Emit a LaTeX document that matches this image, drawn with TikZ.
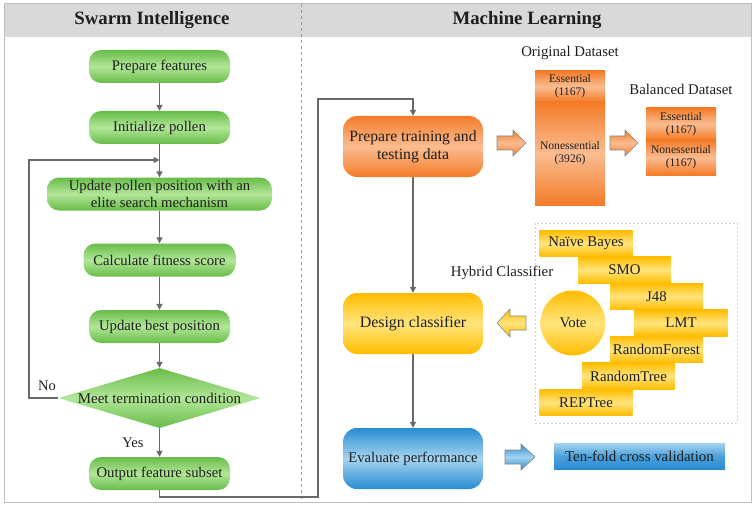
\documentclass[tikz,border=0pt]{standalone}
\usepackage{fontspec}
\setmainfont{Liberation Serif}
\usetikzlibrary{shapes.geometric,arrows.meta}
\definecolor{gE}{RGB}{104,188,72}
\definecolor{gM}{RGB}{178,230,152}
\definecolor{oE}{RGB}{244,124,40}
\definecolor{oM}{RGB}{250,188,145}
\definecolor{yE}{RGB}{255,188,0}
\definecolor{yM}{RGB}{255,228,125}
\definecolor{bE}{RGB}{40,140,210}
\definecolor{bM}{RGB}{165,212,240}
\definecolor{ln}{RGB}{105,105,105}
\definecolor{hdr}{RGB}{217,217,217}
\definecolor{frm}{RGB}{190,190,190}
\definecolor{txt}{RGB}{30,30,30}
\tikzset{
  conn/.style={draw=ln, line width=1.2pt, -{Triangle[length=6pt,width=6pt]}},
  greenbox/.style={rounded corners=12pt, top color=gE, bottom color=gE, middle color=gM, minimum height=33pt, inner sep=0pt, text=txt, font={\fontsize{14.7}{17}\selectfont}, align=center},
  bigbox/.style={rounded corners=14pt, minimum width=140pt, minimum height=61pt, inner sep=0pt, text=txt, align=center},
  orangefill/.style={top color=oE, bottom color=oE, middle color=oM},
  yellowfill/.style={top color=yE, bottom color=yE, middle color=yM},
  bluefill/.style={top color=bE, bottom color=bE, middle color=bM},
  databox/.style={orangefill, minimum width=70pt, inner sep=0pt, text=txt, align=center, font={\fontsize{11.6}{13}\selectfont}},
  clsbox/.style={yellowfill, minimum width=93pt, minimum height=26.5pt, inner sep=0pt, text=txt, font={\fontsize{14.8}{16}\selectfont}},
  lbl/.style={text=txt, font={\fontsize{14.8}{16}\selectfont}},
  hdrtxt/.style={text=txt, font={\fontsize{18.8}{21}\selectfont\bfseries}},
  blockarrow/.style={draw=ln!80, line width=0.6pt}
}
\begin{document}
\begin{tikzpicture}[x=1pt,y=-1pt]
\useasboundingbox[fill=white] (0,0) rectangle (755,508);
% frame and header
\fill[hdr] (4,4) rectangle (751,37);
\draw[frm, line width=1pt] (4,4) rectangle (751,502);
\draw[frm!80!black, dashed, line width=0.8pt] (301,4) -- (301,502);
\node[hdrtxt] (h1) at (152,20) {Swarm Intelligence};
\node[hdrtxt] (h2) at (527,20) {Machine Learning};

% left flow
\node[greenbox, minimum width=141pt] (pf) at (159.5,66.5) {Prepare features};
\node[greenbox, minimum width=141pt] (ip) at (159.5,127.5) {Initialize pollen};
\node[greenbox, minimum width=225pt] (up) at (159.5,194) {Update pollen position with an\\elite search mechanism};
\node[greenbox, minimum width=152pt] (cf) at (159.5,260) {Calculate fitness score};
\node[greenbox, minimum width=141pt] (ub) at (159.5,326.5) {Update best position};
\node[diamond, top color=gE, bottom color=gE, middle color=gM, minimum width=202pt, minimum height=60pt, inner sep=0pt] (dia) at (159.5,398) {};
\node[text=txt, font={\fontsize{14.9}{16}\selectfont}] (diat) at (dia.center) {Meet termination condition};
\node[greenbox, minimum width=141pt] (of) at (159.5,473.5) {Output feature subset};
\node[text=txt, font={\fontsize{14.5}{16}\selectfont}] (no) at (47,386) {No};
\node[text=txt, font={\fontsize{14.5}{16}\selectfont}] (yes) at (133,443) {Yes};

\coordinate (loopin) at (159.5,160);
\coordinate (lc) at (29,160);
\draw[conn] (pf.south) -- (ip.north);
\draw[conn] (ip.south) -- (up.north);
\draw[conn] (up.south) -- (cf.north);
\draw[conn] (cf.south) -- (ub.north);
\draw[conn] (ub.south) -- (dia.north);
\draw[conn] (dia.south) -- (of.north);
\draw[conn] (dia.west) -| (lc) -- (loopin);

% right flow
\node[bigbox, orangefill, font={\fontsize{15.7}{18}\selectfont}] (prep) at (413,146.5) {Prepare training and\\testing data};
\node[bigbox, yellowfill, font={\fontsize{15.9}{18}\selectfont}] (des) at (413,323.5) {Design classifier};
\node[bigbox, bluefill, font={\fontsize{14.7}{17}\selectfont}] (eval) at (413,458.5) {Evaluate performance};

\coordinate (c1) at (318,497);
\coordinate (c2) at (318,99);
\draw[conn] (of.south) |- (c1) -- (c2) -| (prep.north);
\draw[conn] (prep.south) -- (des.north);
\draw[conn] (des.south) -- (eval.north);

% datasets
\node[lbl] (odl) at (570,53) {Original Dataset};
\node[databox, minimum height=31pt] (ess1) at (570,86.5) {Essential\\(1167)};
\node[databox, minimum height=103pt] (non1) at (570,153.5) {Nonessential\\(3926)};
\node[lbl] (bdl) at (681,89) {Balanced Dataset};
\node[databox, minimum height=32pt] (ess2) at (681,124) {Essential\\(1167)};
\node[databox, minimum height=35pt] (non2) at (681,157.5) {Nonessential\\(1167)};

% block arrows
\path[blockarrow, orangefill] (497,136) -- (513,136) -- (513,130) -- (526,143) -- (513,156) -- (513,150) -- (497,150) -- cycle;
\path[blockarrow, orangefill] (610,136) -- (625,136) -- (625,130) -- (638,143) -- (625,156) -- (625,150) -- (610,150) -- cycle;
\path[blockarrow, yellowfill] (526,316) -- (510,316) -- (510,309) -- (497,323) -- (510,337) -- (510,330) -- (526,330) -- cycle;
\path[blockarrow, bluefill] (505,450) -- (521,450) -- (521,444) -- (535,457) -- (521,470) -- (521,464) -- (505,464) -- cycle;

% classifier panel
\draw[gray!35, dash pattern=on 2pt off 2pt, line width=0.6pt] (535,223) rectangle (737,423);
\node[lbl] (hyb) at (502,273) {Hybrid Classifier};
\node[clsbox] (nb) at (586,243.5) {Naïve Bayes};
\node[clsbox] (smo) at (624.5,270) {SMO};
\node[clsbox] (j48) at (656.5,296.5) {J48};
\node[clsbox] (lmt) at (681,323) {LMT};
\node[clsbox] (rf) at (656.5,349.5) {RandomForest};
\node[clsbox] (rt) at (628.5,376) {RandomTree};
\node[clsbox] (rep) at (586,402.5) {REPTree};
\node[circle, yellowfill, minimum size=65pt, inner sep=0pt, text=txt, font={\fontsize{14.8}{16}\selectfont}] (vote) at (573,323) {Vote};

% ten-fold
\node[top color=bM, bottom color=bE, middle color=bE!70!bM, minimum width=171pt, minimum height=26pt, inner sep=0pt, text=txt, font={\fontsize{14.9}{16}\selectfont}] (tf) at (639.5,456) {Ten-fold cross validation};
\end{tikzpicture}
\end{document}
